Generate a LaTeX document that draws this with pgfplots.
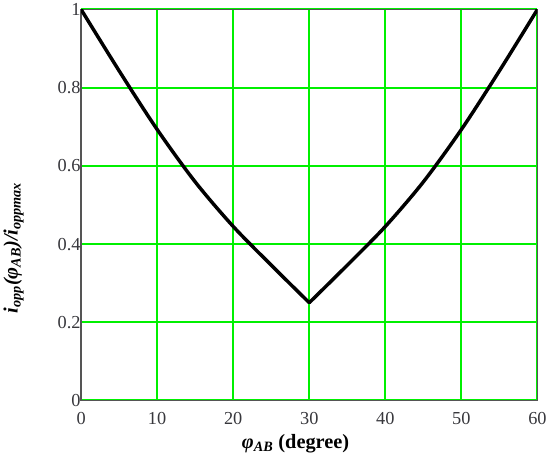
\documentclass[border=0pt]{standalone}
\usepackage{fontspec}
\setmainfont{Liberation Serif}
\usepackage{pgfplots}
\pgfplotsset{compat=1.18}
\definecolor{gridgreen}{RGB}{0,240,0}
\definecolor{framegray}{RGB}{85,85,85}
\definecolor{ticktext}{RGB}{55,55,60}

\begin{document}
\begin{tikzpicture}
\begin{axis}[
  scale only axis,
  width=447bp, height=383bp,
  xmin=0, xmax=60, ymin=0, ymax=1,
  xtick={0,10,20,30,40,50,60},
  ytick={0,0.2,0.4,0.6,0.8,1},
  xmajorgrids=true, ymajorgrids=true,
  grid style={draw=gridgreen, line width=1.9bp},
  tick style={draw=none},
  major tick length=0pt,
  axis line style={framegray, line width=1.8bp},
  /pgf/number format/assume math mode=true,
  tick label style={font=\fontsize{18}{20}\selectfont, text=ticktext},
  xticklabel style={yshift=-8bp},
  yticklabel style={xshift=3bp},
  xlabel={\bfseries\itshape φ\textsubscript{AB}\upshape\ (degree)},
  ylabel={\bfseries\itshape i\textsubscript{opp}(φ\textsubscript{AB})/i\textsubscript{oppmax}},
  label style={font=\fontsize{20}{22}\selectfont},
  xlabel style={at={(axis description cs:0.47,-0.11)}, anchor=center},
  ylabel style={at={(axis description cs:-0.148,0.39)}, anchor=center},
]
% left branch
\addplot[black, line width=3.4bp, smooth, tension=0.5, line cap=round] coordinates {
  (0,1) (5,0.843) (10,0.693) (15,0.559) (20,0.445) (25,0.346) (30,0.25)
};
% right branch
\addplot[black, line width=3.4bp, smooth, tension=0.5, line cap=round] coordinates {
  (30,0.25) (35,0.346) (40,0.445) (45,0.559) (50,0.693) (55,0.843) (60,1)
};
\end{axis}
\end{tikzpicture}
\end{document}
